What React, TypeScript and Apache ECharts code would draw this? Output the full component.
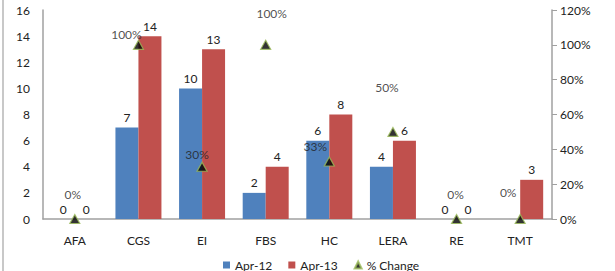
import React, { useEffect, useRef } from "react";
import * as echarts from "echarts";

const categories = ["AFA", "CGS", "EI", "FBS", "HC", "LERA", "RE", "TMT"];
const apr12 = [0, 7, 10, 2, 6, 4, 0, 0];
const apr13 = [0, 14, 13, 4, 8, 6, 0, 3];
const pctChange = [0, 100, 30, 100, 33, 50, 0, 0];
const leftTicks = { min: 0, max: 16, interval: 2 };
const rightTicks = { min: 0, max: 120, interval: 20 };

// label offsets (style only) for % change labels, [dx, dy] from the marker centre
const pctLabelOffsets = [
  [-2, -25],
  [-12, -10],
  [-5, -12],
  [6, -31],
  [-14, -15],
  [-6, -44],
  [-1, -25],
  [-12, -27],
];
// Apr-12 labels hidden in the reference (style only)
const apr12HiddenLabel = [false, false, false, false, false, false, false, true];

const FONT = "Lato, 'Open Sans', sans-serif";

export default function App() {
  const ref = useRef<HTMLDivElement>(null);
  useEffect(() => {
    document.body.style.margin = "0";
    if (!ref.current) return;
    const chart = echarts.init(ref.current, undefined, { renderer: "svg" });
    const axisText = { color: "#222", fontFamily: FONT, fontSize: 12 };
    const barLabel = { show: true, position: "top", distance: 4, color: "#222", fontSize: 12, fontFamily: FONT };
    chart.setOption({
      animation: false,
      textStyle: { fontFamily: FONT },
      grid: { left: 43, right: 63, top: 10, bottom: 52, containLabel: false },
      legend: {
        bottom: -5,
        left: 218,
        itemWidth: 7,
        itemHeight: 7,
        itemGap: 16,
        textStyle: { color: "#222", fontFamily: FONT, fontSize: 12 },
        data: [
          { name: "Apr-12", icon: "rect" },
          { name: "Apr-13", icon: "rect" },
          { name: "% Change", icon: "triangle" },
        ],
      },
      xAxis: {
        type: "category",
        data: categories,
        axisLine: { lineStyle: { color: "#a0a0a0", width: 1.5 } },
        axisTick: { show: false },
        axisLabel: { ...axisText, margin: 15 },
      },
      yAxis: [
        {
          type: "value",
          min: leftTicks.min,
          max: leftTicks.max,
          interval: leftTicks.interval,
          splitLine: { show: false },
          axisLine: { show: true, lineStyle: { color: "#a0a0a0", width: 1.5 } },
          axisTick: { show: false },
          axisLabel: { ...axisText, margin: 13 },
        },
        {
          type: "value",
          min: rightTicks.min,
          max: rightTicks.max,
          interval: rightTicks.interval,
          position: "right",
          splitLine: { show: false },
          axisLine: { show: true, lineStyle: { color: "#a0a0a0", width: 1.5 } },
          axisTick: { show: true, length: 5, lineStyle: { color: "#a0a0a0" } },
          axisLabel: { ...axisText, margin: 8, formatter: "{value}%" },
        },
      ],
      series: [
        {
          name: "Apr-12",
          type: "bar",
          data: apr12.map((v, i) => ({ value: v, label: { show: !apr12HiddenLabel[i] } })),
          barWidth: 23,
          barGap: "0%",
          itemStyle: { color: "#4F81BD" },
          label: barLabel,
        },
        {
          name: "Apr-13",
          type: "bar",
          data: apr13,
          barWidth: 23,
          barGap: "0%",
          itemStyle: { color: "#C0504D" },
          label: barLabel,
        },
        {
          name: "% Change",
          type: "scatter",
          yAxisIndex: 1,
          symbol: "triangle",
          symbolSize: [10, 9],
          z: 5,
          itemStyle: { color: "#000", borderColor: "#9BBB59", borderWidth: 1.2 },
          data: pctChange.map((v, i) => ({
            value: [categories[i], v],
            label: {
              show: true,
              position: "inside",
              offset: pctLabelOffsets[i],
              formatter: "{@[1]}%",
              color: "#222",
              fontSize: 12,
              fontFamily: FONT,
            },
          })),
        },
      ],
      graphic: [
        {
          type: "line",
          shape: { x1: 3, y1: 0, x2: 3, y2: 271 },
          style: { stroke: "#c8c8c8", lineWidth: 2 },
        },
      ],
    });
    return () => chart.dispose();
  }, []);
  return <div ref={ref} style={{ width: 615, height: 271 }} />;
}
